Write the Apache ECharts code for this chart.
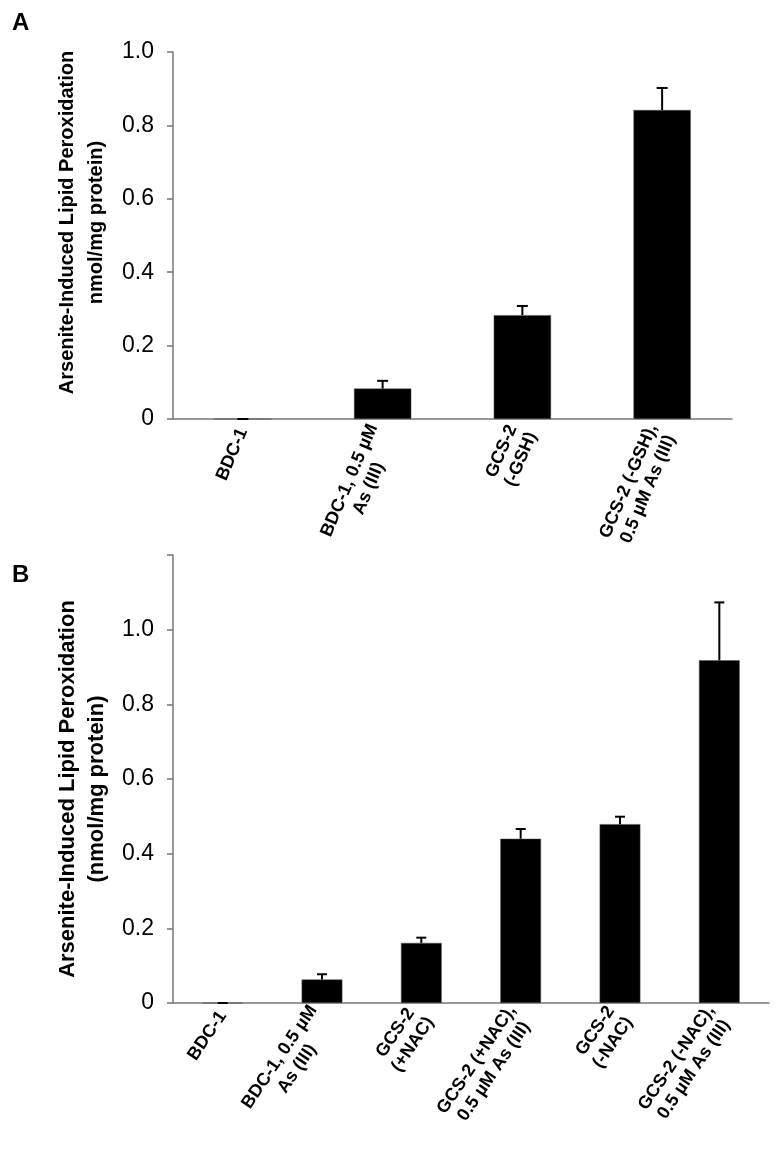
<!DOCTYPE html>
<html><head><meta charset="utf-8">
<script src="https://cdn.jsdelivr.net/npm/echarts@6/dist/echarts.min.js"></script>
<style>html,body{margin:0;padding:0;background:#fff}#c{width:778px;height:1164px}</style>
</head><body><div id="c"></div>
<script>
// ---- Data ----
const catsA = ['BDC-1', 'BDC-1, 0.5 µM\nAs (III)', 'GCS-2\n(-GSH)', 'GCS-2 (-GSH),\n0.5 µM As (III)'];
const valsA = [0, 0.083, 0.283, 0.842];
const errsA = [0, 0.021, 0.025, 0.060];

const catsB = ['BDC-1', 'BDC-1, 0.5 µM\nAs (III)', 'GCS-2\n(+NAC)', 'GCS-2 (+NAC),\n0.5 µM As (III)', 'GCS-2\n(-NAC)', 'GCS-2 (-NAC),\n0.5 µM As (III)'];
const valsB = [0, 0.063, 0.161, 0.440, 0.479, 0.918];
const errsB = [0, 0.014, 0.014, 0.026, 0.020, 0.155];

const yTitleA = 'Arsenite-Induced Lipid Peroxidation\nnmol/mg protein)';
const yTitleB = 'Arsenite-Induced Lipid Peroxidation\n(nmol/mg protein)';
const yMaxA = 1.0, yMaxB = 1.2, yStep = 0.2;

// ---- Chart ----
const FONT = "'Liberation Sans', Arial, sans-serif";
const AX = '#777';
const chart = echarts.init(document.getElementById('c'), null, {renderer: 'canvas'});

function catFormatter(v) {
  return v.split('\n').map(l => '{c|' + l + '}').join('\n');
}
function yFmt(max) {
  return v => (Math.abs(v) < 1e-9 ? '0' : (v > max - 1e-9 && max > 1.0001 ? '' : v.toFixed(1)));
}
function errRender(cap) {
  return function (params, api) {
    const x = api.value(0), v = api.value(1), e = api.value(2);
    const p0 = api.coord([x, v]);
    const p1 = api.coord([x, v + e]);
    const hw = cap / 2;
    return {
      type: 'group',
      children: [
        {type: 'line', shape: {x1: p0[0], y1: p0[1], x2: p1[0], y2: p1[1]}, style: {stroke: '#000', lineWidth: 2}},
        {type: 'line', shape: {x1: p1[0] - hw, y1: p1[1], x2: p1[0] + hw, y2: p1[1]}, style: {stroke: '#000', lineWidth: 2}}
      ]
    };
  };
}
function xAxis(cats, idx, rot) {
  return {
    type: 'category', gridIndex: idx, data: cats,
    axisLine: {lineStyle: {color: AX, width: 1.5}},
    axisTick: {length: 6, lineStyle: {color: AX, width: 1.5}},
    axisLabel: {
      interval: 0, rotate: rot, margin: 10, formatter: catFormatter,
      rich: {c: {align: 'center', fontFamily: FONT, fontWeight: 'bold', fontSize: 18, color: '#000', lineHeight: 21}}
    }
  };
}
function yAxis(idx, max, title, fs, lh, gap, pad) {
  return {
    type: 'value', gridIndex: idx, min: 0, max: max, interval: yStep,
    axisLine: {show: true, lineStyle: {color: AX, width: 1.5}},
    axisTick: {show: true, length: 6, lineStyle: {color: AX, width: 1.5}},
    splitLine: {show: false},
    axisLabel: {formatter: yFmt(max), fontFamily: FONT, fontSize: 23, color: '#000', margin: 19},
    name: title, nameLocation: 'middle', nameRotate: 90, nameGap: gap,
    nameTextStyle: {fontFamily: FONT, fontWeight: 'bold', fontSize: fs, color: '#000', lineHeight: lh, padding: pad}
  };
}

chart.setOption({
  animation: false,
  backgroundColor: '#fff',
  grid: [
    {left: 173, top: 52, width: 559, height: 367},
    {left: 173, top: 555, width: 596, height: 448}
  ],
  xAxis: [xAxis(catsA, 0, 67), xAxis(catsB, 1, 56)],
  yAxis: [yAxis(0, yMaxA, yTitleA, 20, 29, 61, [0, 0, 0, 26]), yAxis(1, yMaxB, yTitleB, 22, 29, 61, [0, 20, 0, 0])],
  graphic: [
    {type: 'text', left: 12, top: 11, style: {text: 'A', font: 'bold 24px ' + FONT, fill: '#000'}},
    {type: 'text', left: 12, top: 563, style: {text: 'B', font: 'bold 24px ' + FONT, fill: '#000'}}
  ],
  series: [
    {type: 'bar', xAxisIndex: 0, yAxisIndex: 0, data: valsA, barWidth: '41%',
     itemStyle: {color: '#000', borderColor: '#555', borderWidth: 0.5}},
    {type: 'custom', xAxisIndex: 0, yAxisIndex: 0, z: 5, renderItem: errRender(11),
     data: catsA.map((c, i) => [i, valsA[i], errsA[i]])},
    {type: 'bar', xAxisIndex: 1, yAxisIndex: 1, data: valsB, barWidth: '41%',
     itemStyle: {color: '#000', borderColor: '#555', borderWidth: 0.5}},
    {type: 'custom', xAxisIndex: 1, yAxisIndex: 1, z: 5, renderItem: errRender(10),
     data: catsB.map((c, i) => [i, valsB[i], errsB[i]])}
  ]
});
</script>
</body></html>
